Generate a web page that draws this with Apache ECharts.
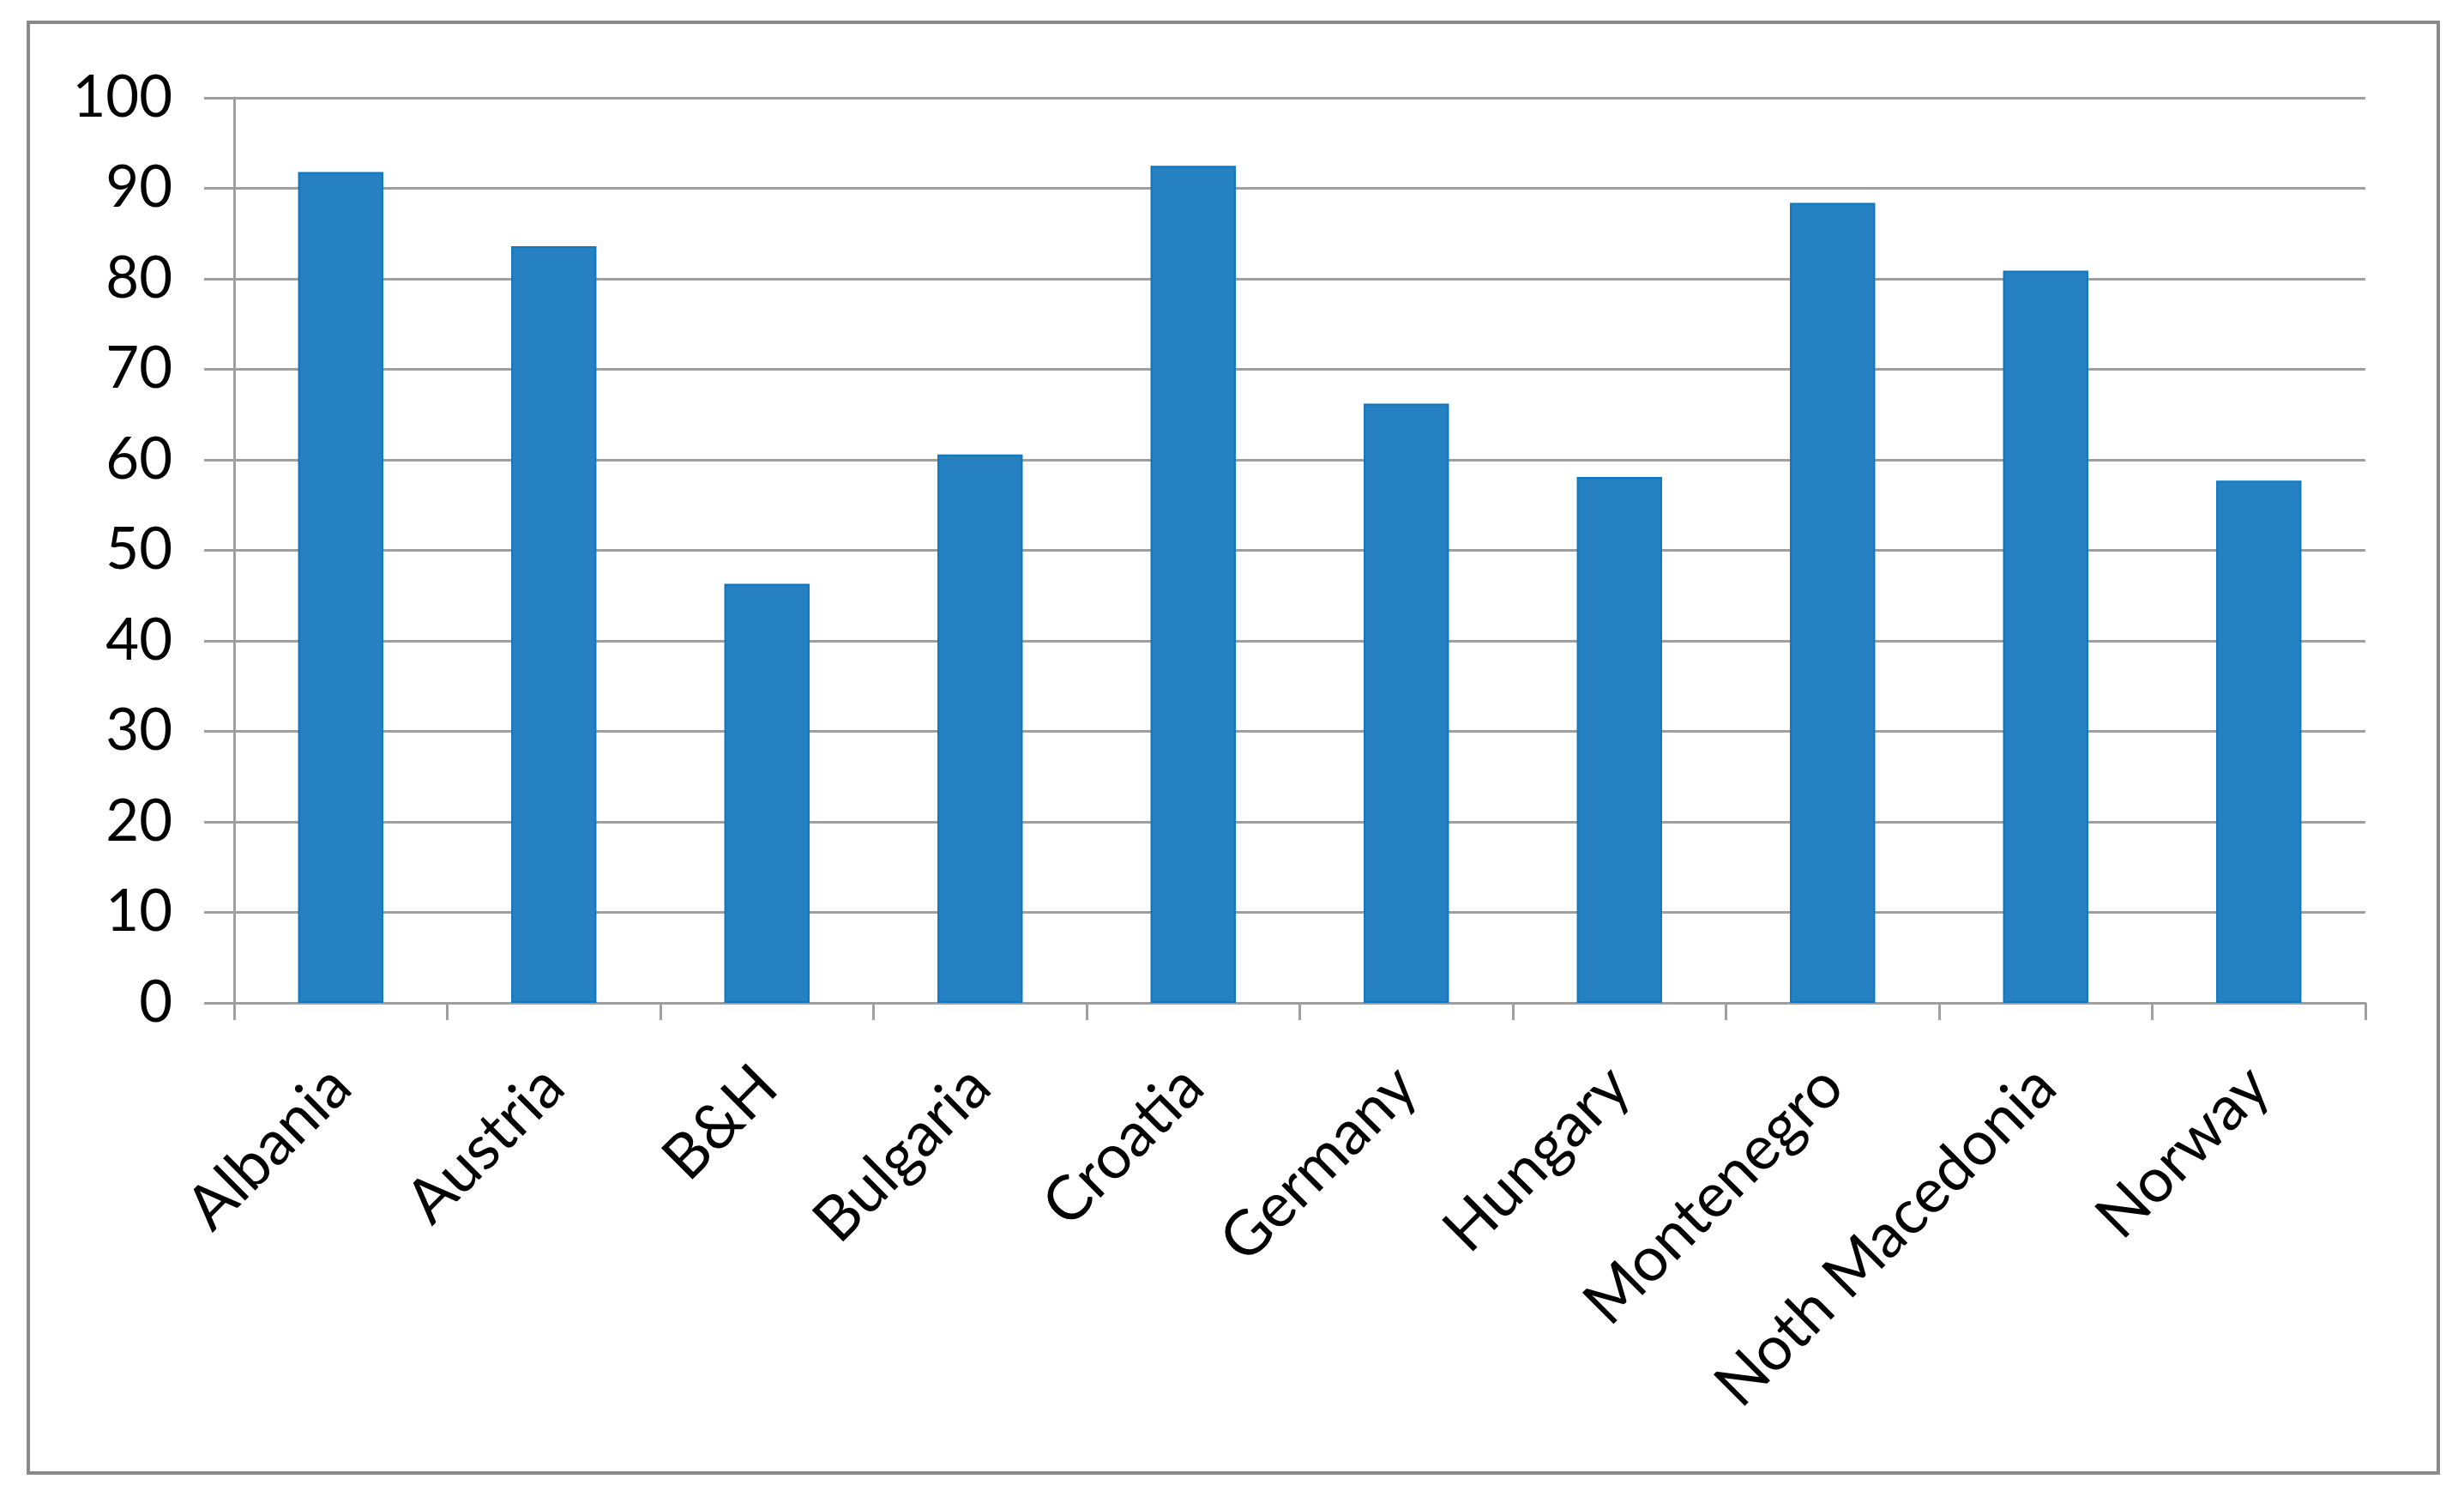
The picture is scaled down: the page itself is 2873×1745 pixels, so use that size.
<!DOCTYPE html>
<html>
<head>
<meta charset="utf-8">
<script src="https://cdn.jsdelivr.net/npm/echarts@6/dist/echarts.min.js"></script>
<style>
html,body{margin:0;padding:0;background:#fff;}
#chart{width:2873px;height:1745px;}
</style>
</head>
<body>
<div id="chart"></div>
<script>
const categories = ['Albania','Austria','B&H','Bulgaria','Croatia','Germany','Hungary','Montenegro','Noth Macedonia','Norway'];
const values = [91.8, 83.6, 46.3, 60.6, 92.5, 66.2, 58.1, 88.4, 80.9, 57.7];
const yMin = 0, yMax = 100, yStep = 10;

const chart = echarts.init(document.getElementById('chart'), null, {renderer:'canvas'});
const gray = '#9f9f9f';
const font = 'Lato, Carlito, Calibri, sans-serif';
chart.setOption({
  animation:false,
  backgroundColor:'#fff',
  graphic:[{
    type:'rect', silent:true, z:-1,
    shape:{x:33, y:26, width:2810, height:1691},
    style:{fill:'#fff', stroke:'#8a8a8a', lineWidth:4}
  }],
  grid:{left:273, right:115, top:114, bottom:576, containLabel:false},
  xAxis:{
    type:'category',
    data:categories,
    axisLine:{show:true, lineStyle:{color:gray, width:3}},
    axisTick:{show:true, length:20, lineStyle:{color:gray, width:3}},
    axisLabel:{rotate:45, margin:86, fontSize:72, fontFamily:font, color:'#000', interval:0}
  },
  yAxis:{
    type:'value',
    min:yMin, max:yMax, interval:yStep,
    axisLine:{show:true, lineStyle:{color:gray, width:3}},
    axisTick:{show:true, length:35, lineStyle:{color:gray, width:3}},
    splitLine:{show:true, lineStyle:{color:gray, width:3}},
    axisLabel:{margin:72, fontSize:67, fontFamily:font, color:'#000'}
  },
  series:[{
    type:'bar',
    data:values,
    barWidth:'40%',
    itemStyle:{color:'#2581C2', borderColor:'#0F77BF', borderWidth:2}
  }]
});
</script>
</body>
</html>
